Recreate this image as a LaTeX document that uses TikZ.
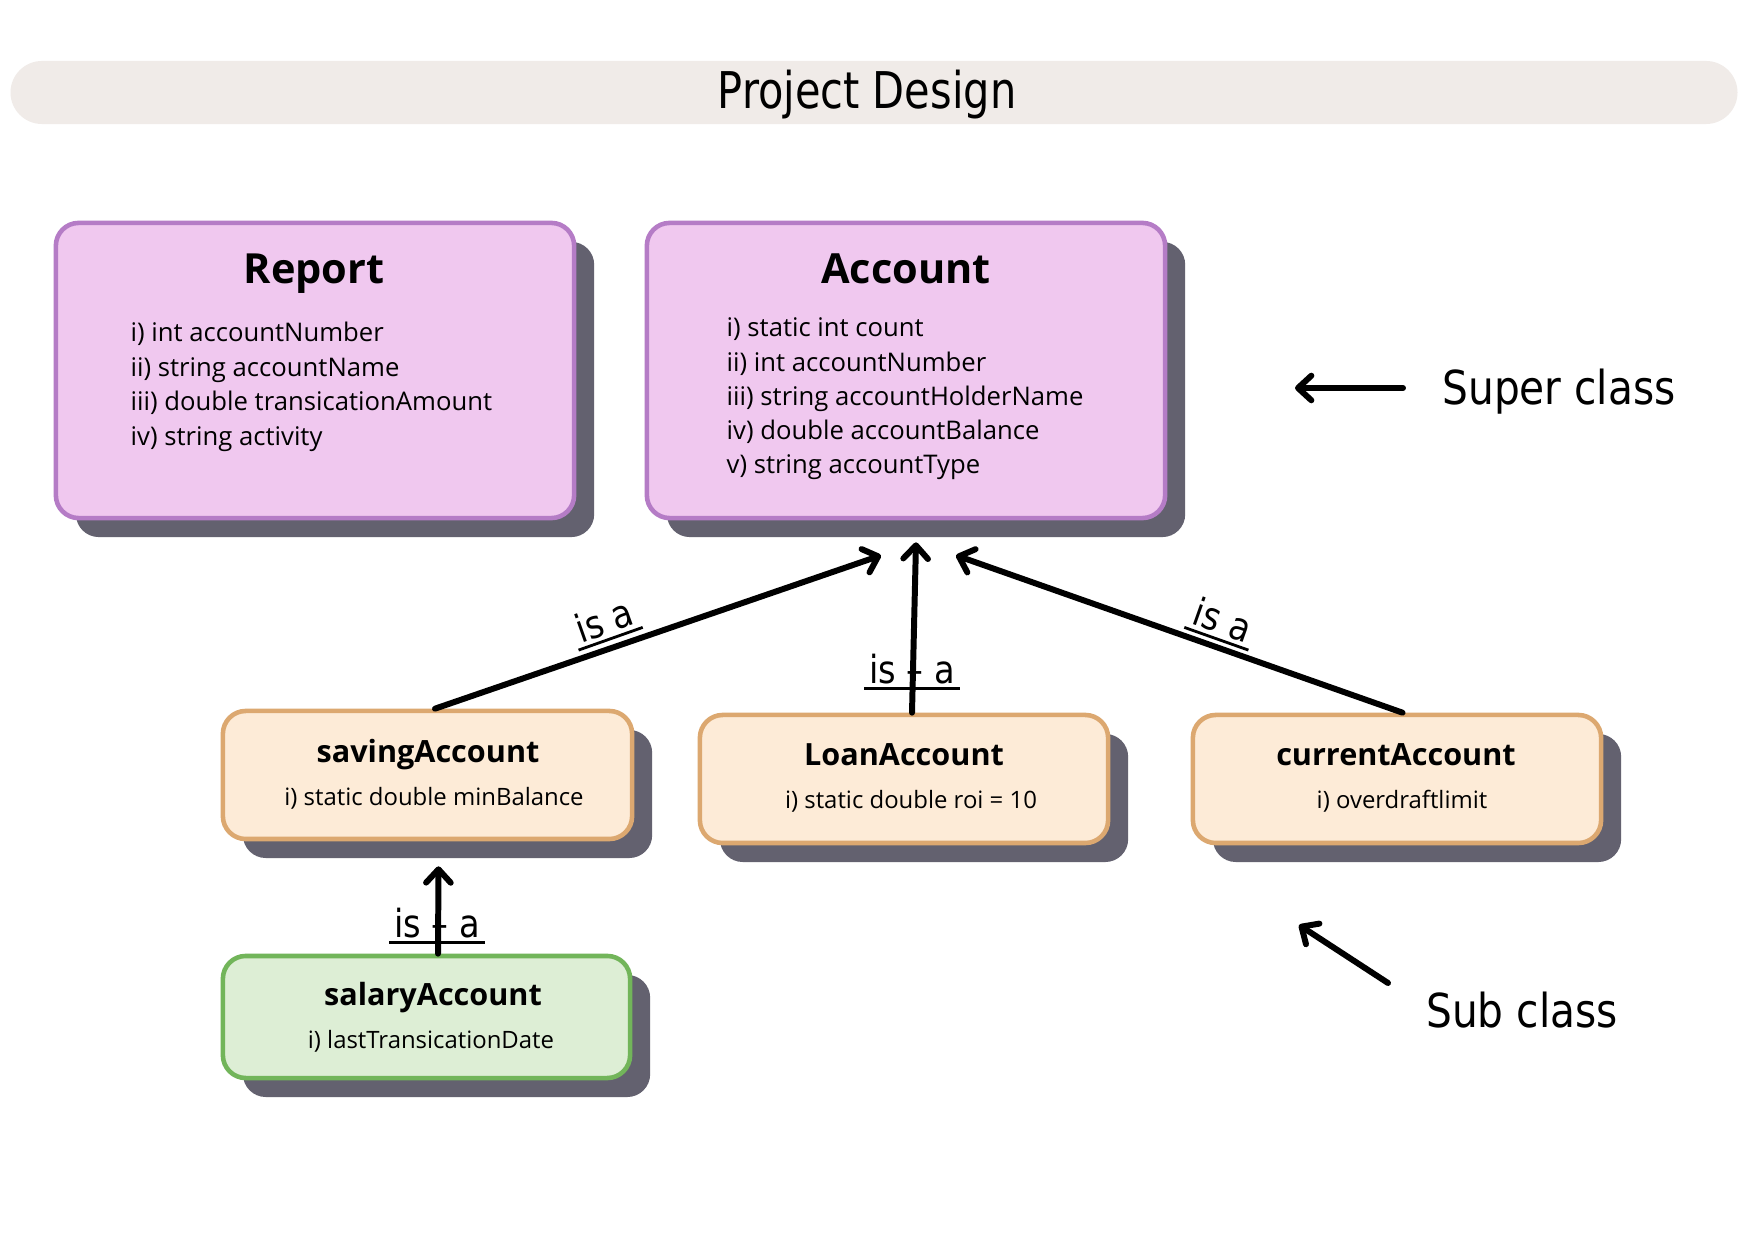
\documentclass[tikz,border=0pt]{standalone}
\usepackage{fontspec}
\setmainfont{Open Sans}
\newfontfamily\handfont[FakeStretch=0.87]{DejaVu Sans}
\newfontfamily\headfont[FakeStretch=0.82]{DejaVu Sans}
\usetikzlibrary{arrows.meta,shadows,positioning}

\definecolor{barbg}{HTML}{F0EBE8}
\definecolor{pinkfill}{HTML}{F0C8EF}
\definecolor{pinkline}{HTML}{B57CC6}
\definecolor{peachfill}{HTML}{FDEBD7}
\definecolor{peachline}{HTML}{DCA870}
\definecolor{greenfill}{HTML}{DDEED5}
\definecolor{greenline}{HTML}{72B55A}
\definecolor{shade}{HTML}{63616F}

\tikzset{
	classbox/.style={draw=#1line, fill=#1fill, line width=1.3pt, rounded corners=6.5pt,
		general shadow={fill=shade, shadow xshift=5.7pt, shadow yshift=-5.4pt}},
	bigtitle/.style={anchor=base, font=\bfseries\fontsize{11.8}{14}\selectfont},
	smalltitle/.style={anchor=base, font=\bfseries\fontsize{8.7}{10}\selectfont},
	bigitem/.style={anchor=base west, inner sep=0pt, font=\fontsize{7.3}{9}\selectfont},
	smallitem/.style={anchor=base, font=\fontsize{6.8}{8}\selectfont},
	isa/.style={line width=1.7pt, line cap=round,
		-{Straight Barb[length=3.8pt,width=7pt,line cap=round,line join=round]}},
	hand/.style={font=\handfont\fontsize{13.3}{15}\selectfont},
	isalbl/.style={font=\handfont\fontsize{11}{13}\selectfont, inner sep=1.2pt},
}

\begin{document}
\begin{tikzpicture}[x=0.01cm,y=-0.01cm]
	\useasboundingbox (0,0) rectangle (1748,1240);
	\fill[color=white] (0,0) rectangle (1748,1240);

	\node[fill=barbg, rounded corners=0.315cm, minimum width=17.26cm, minimum height=0.63cm] (bar) at (874,92.5) {};
	\node[anchor=base, font=\headfont\fontsize{14.4}{16}\selectfont] (title) at (867,109) {Project Design};

	% super classes
	\node[classbox=pink, minimum width=5.18cm, minimum height=2.95cm] (report) at (315,370.5) {};
	\node[classbox=pink, minimum width=5.18cm, minimum height=2.95cm] (account) at (906,370.5) {};
	\node[bigtitle] (reporttitle) at (314,284) {Report};
	\node[bigtitle] (accounttitle) at (906,284) {Account};
	\foreach \txt [count=\i from 0] in {i) int accountNumber, ii) string accountName,
		iii) double transicationAmount, iv) string activity}
		\node[bigitem] (rep\i) at (130,342+34.5*\i) {\txt};
	\foreach \txt [count=\i from 0] in {i) static int count, ii) int accountNumber,
		iii) string accountHolderName, iv) double accountBalance, v) string accountType}
		\node[bigitem] (acc\i) at (726,337+34.2*\i) {\txt};

	% sub classes
	\node[classbox=peach, minimum width=4.09cm, minimum height=1.28cm] (saving) at (427.5,775) {};
	\node[classbox=peach, minimum width=4.08cm, minimum height=1.28cm] (loan) at (904,779) {};
	\node[classbox=peach, minimum width=4.08cm, minimum height=1.28cm] (current) at (1397,779) {};
	\node[classbox=green, minimum width=4.07cm, minimum height=1.22cm] (salary) at (426.5,1017) {};
	\node[smalltitle] (savingtitle) at (428,762.5) {savingAccount};
	\node[smallitem] (savingitem) at (434,806) {i) static double minBalance};
	\node[smalltitle] (loantitle) at (904,766) {LoanAccount};
	\node[smallitem] (loanitem) at (911,809) {i) static double roi = 10};
	\node[smalltitle] (currenttitle) at (1396,766) {currentAccount};
	\node[smallitem] (currentitem) at (1402,809) {i) overdraftlimit};
	\node[smalltitle] (salarytitle) at (433,1005.5) {salaryAccount};
	\node[smallitem] (salaryitem) at (431,1048) {i) lastTransicationDate};

	% is-a connectors
	\coordinate[below left=0.35cm and 0.25cm of account.south] (tipsave);
	\coordinate[below right=0.22cm and 0.1cm of account.south] (tiploan);
	\coordinate[below right=0.35cm and 0.5cm of account.south] (tipcur);
	\coordinate[below right=0.25cm and 0.11cm of saving.south] (tipsal);
	\draw[isa] ([xshift=0.075cm]saving.north) -- (tipsave);
	\draw[isa] ([xshift=0.08cm]loan.north) -- (tiploan);
	\draw[isa] ([xshift=0.055cm]current.north) -- (tipcur);
	\draw[isa] ([xshift=0.115cm]salary.north) -- (tipsal);

	\node[isalbl, rotate=19.5] (lblsave) at (604,620) {is a};
	\node[isalbl, rotate=-19.5] (lblcur) at (1223,620) {is a};
	\node[isalbl] (lblloan) at (912,669) {is \textendash\ a};
	\node[isalbl] (lblsal) at (437,923) {is \textendash\ a};
	\foreach \l in {lblsave,lblcur,lblloan,lblsal}
		\draw[line width=0.8pt] (\l.south west) -- (\l.south east);

	% legend
	\node[hand] (superlbl) at (1559,392) {Super class};
	\coordinate (supertip) at (1295,388);
	\draw[isa, shorten <=0.27cm] (superlbl.west |- supertip) -- (supertip);
	\node[hand] (sublbl) at (1522,1010) {Sub class};
	\coordinate (subtail) at (1388,983);
	\coordinate (subtip) at (1299,925);
	\draw[isa] (subtail) -- (subtip);
\end{tikzpicture}
\end{document}
